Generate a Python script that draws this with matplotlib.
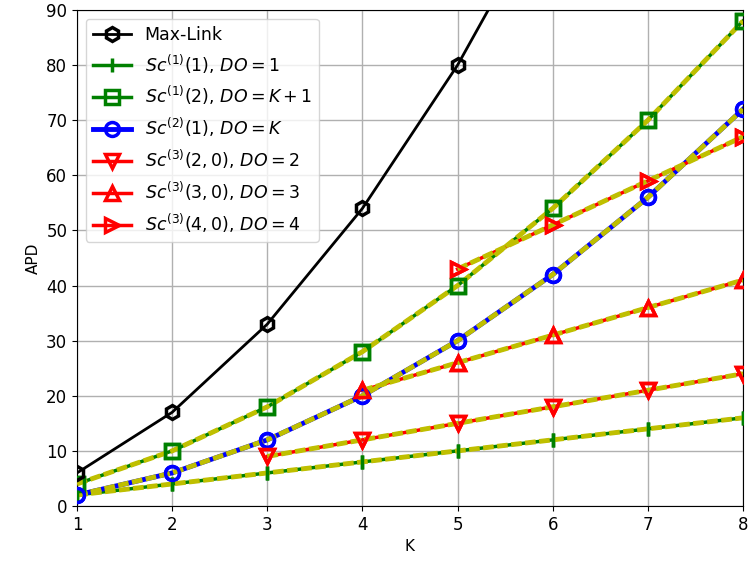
import numpy as np
from matplotlib import pyplot as plt

K = np.arange(1, 9)
maxlink = [6, 17, 33, 54, 80, 111, 147, 188]
sc1_1 = [2, 4, 6, 8, 10, 12, 14, 16]
sc1_2 = [4, 10, 18, 28, 40, 54, 70, 88]
sc2_1 = [2, 6, 12, 20, 30, 42, 56, 72]
K_sc3_2 = [3, 4, 5, 6, 7, 8]
sc3_2 = [9, 12, 15, 18, 21, 24]
K_sc3_3 = [4, 5, 6, 7, 8]
sc3_3 = [21, 26, 31, 36, 41]
K_sc3_4 = [5, 6, 7, 8]
sc3_4 = [43, 51, 59, 67]

fig = plt.figure(figsize=(7.51, 5.70), dpi=100)
ax = fig.add_axes([77 / 751, 1 - 506 / 570, 666 / 751, 496 / 570])
ax.grid(True, color='#b0b0b0', linewidth=1)
ax.set_axisbelow(True)

mk = dict(markersize=10, markerfacecolor='none', markeredgewidth=2.5)
ax.plot(K, maxlink, 'k-', marker='h', linewidth=2, label='Max-Link', zorder=5, **mk)

series = [
    (K, sc1_1, 'g', '|', 2.5, r'$Sc^{(1)}(1)$, $DO=1$'),
    (K, sc1_2, 'g', 's', 2.5, r'$Sc^{(1)}(2)$, $DO=K+1$'),
    (K, sc2_1, 'b', 'o', 3.5, r'$Sc^{(2)}(1)$, $DO=K$'),
    (K_sc3_2, sc3_2, 'r', 'v', 2.5, r'$Sc^{(3)}(2,0)$, $DO=2$'),
    (K_sc3_3, sc3_3, 'r', '^', 2.5, r'$Sc^{(3)}(3,0)$, $DO=3$'),
    (K_sc3_4, sc3_4, 'r', '>', 2.5, r'$Sc^{(3)}(4,0)$, $DO=4$'),
]
for x, y, c, m, lw, lab in series:
    # simulated curve (line kept underneath the analytical one)
    ax.plot(x, y, color=c, marker=m, linewidth=lw, label=lab, zorder=2, **mk)
    # analytical curve
    ax.plot(x, y, 'y--', linewidth=3.5, dashes=(2.2, 0.7), zorder=3)
    # markers on top
    ax.plot(x, y, color=c, marker=m, linestyle='none', zorder=4, **mk)

ax.set_xlim(1, 8)
ax.set_ylim(0, 90)
ax.set_xticks(range(1, 9))
ax.set_yticks(range(0, 91, 10))
ax.tick_params(labelsize=12)
ax.set_xlabel('K', fontsize=11)
ax.set_ylabel('APD', fontsize=11)
ax.legend(loc='upper left', fontsize=12.5, handlelength=2.2)
plt.savefig('out.png', dpi=100)
